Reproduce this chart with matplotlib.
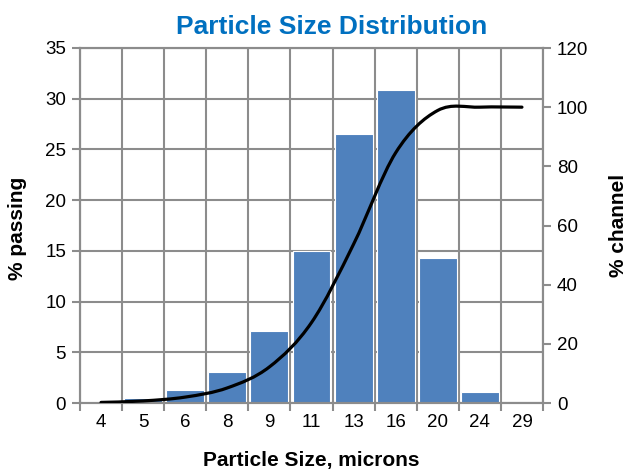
import numpy as np
import matplotlib
matplotlib.use("Agg")
import matplotlib.pyplot as plt
from matplotlib.path import Path
from matplotlib.patches import PathPatch

plt.rcParams['font.family'] = ['Liberation Sans', 'DejaVu Sans']

categories = ["4", "5", "6", "8", "9", "11", "13", "16", "20", "24", "29"]
channel_pct = [0.2, 0.5, 1.3, 3.1, 7.1, 15.0, 26.5, 30.9, 14.3, 1.1, 0.0]
passing_pct = [0.2, 0.7, 2.0, 5.1, 12.2, 27.2, 53.7, 84.6, 98.9, 100.0, 100.0]

W, H = 627, 469
fig = plt.figure(figsize=(W / 100, H / 100), dpi=100)
ax = fig.add_axes([80/W, 1-403/H, (543-80)/W, (403-48)/H])
ax2 = ax.twinx()

x = np.arange(len(categories))
grid_c = '#8c8c8c'

ax.set_axisbelow(True)
ax.bar(x, channel_pct, width=0.9, color='#4F81BD', edgecolor='white', linewidth=0.8, zorder=2)
ax.set_xlim(-0.5, len(categories) - 0.5)
ax.set_ylim(0, 35)
ax.set_yticks(np.arange(0, 36, 5))
ax.set_xticks(x)
ax.set_xticklabels(categories)
ax.set_xticks(np.arange(-0.5, len(categories), 1.0), minor=True)
ax.tick_params(axis='x', which='major', length=0, pad=8, labelsize=13.5)
ax.tick_params(axis='x', which='minor', length=6, color=grid_c, width=1.5, direction='out')
ax.tick_params(axis='y', length=6, color=grid_c, width=1.5, direction='out', labelsize=13.5, pad=4)
ax.grid(True, which='minor', axis='x', color=grid_c, linewidth=1.5, zorder=0)
ax.grid(True, which='major', axis='y', color=grid_c, linewidth=1.5, zorder=0)
for s in ax.spines.values():
    s.set_color(grid_c)
    s.set_linewidth(1.5)

ax2.set_ylim(0, 120)
ax2.set_yticks(np.arange(0, 121, 20))
ax2.tick_params(axis='y', length=6, color=grid_c, width=1.5, direction='out', labelsize=13.5, pad=4)
for s in ax2.spines.values():
    s.set_color(grid_c)
    s.set_linewidth(1.5)

# smoothed line (Bezier through points, Excel-like)
pts = np.column_stack([x.astype(float), np.array(passing_pct)])
n = len(pts)
verts = [tuple(pts[0])]
codes = [Path.MOVETO]
for i in range(n - 1):
    p0 = pts[i - 1] if i > 0 else pts[i]
    p1 = pts[i]
    p2 = pts[i + 1]
    p3 = pts[i + 2] if i + 2 < n else pts[i + 1]
    c1 = p1 + (p2 - p0) / 6.0
    c2 = p2 - (p3 - p1) / 6.0
    verts += [tuple(c1), tuple(c2), tuple(p2)]
    codes += [Path.CURVE4] * 3
ax2.add_patch(PathPatch(Path(verts, codes), facecolor='none', edgecolor='black',
                        linewidth=2.3, capstyle='round', joinstyle='round', zorder=3))

ax.set_ylabel('% passing', fontsize=15, fontweight='bold')
ax.yaxis.set_label_coords(17.5/W, 0.5*(1-175/H + 1-282/H), transform=fig.transFigure)
ax.yaxis.label.set_va('center')
ax2.set_ylabel('% channel', fontsize=15, fontweight='bold')
ax2.yaxis.set_label_coords(618/W, 0.5*(1-173/H + 1-278/H), transform=fig.transFigure)
ax2.yaxis.label.set_va('center')
fig.text(311.5/W, 1-466/H, 'Particle Size, microns', fontsize=15, fontweight='bold',
         ha='center', va='baseline')
fig.text(332/W, 1-34/H, 'Particle Size Distribution', fontsize=19, fontweight='bold',
         color='#0070C0', ha='center', va='baseline')

fig.savefig('out.png', dpi=100)
